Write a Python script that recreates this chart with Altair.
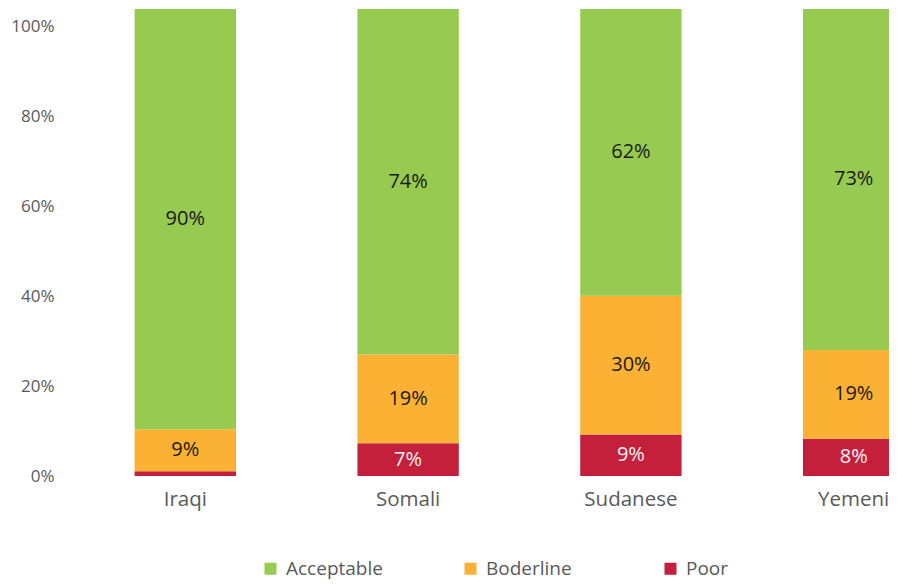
import altair as alt
import pandas as pd

countries = ["Iraqi", "Somali", "Sudanese", "Yemeni"]
categories = ["Acceptable", "Boderline", "Poor"]
poor = [1, 7, 9, 8]
borderline = [9, 19, 30, 19]
acceptable = [90, 74, 62, 73]
tick_values = [0, 20, 40, 60, 80, 100]

colors = ["#97CA50", "#FBB133", "#C41F3B"]
label_colors = ["#1a1a1a", "#1a1a1a", "#f4f4f4"]

rows = []
for i, c in enumerate(countries):
    for cat, vals, order, tc in [("Poor", poor, 0, label_colors[2]),
                                 ("Boderline", borderline, 1, label_colors[1]),
                                 ("Acceptable", acceptable, 2, label_colors[0])]:
        rows.append({"country": c, "category": cat, "value": vals[i],
                     "order": order, "tcolor": tc, "label": f"{vals[i]}%"})
df = pd.DataFrame(rows)
ticks_df = pd.DataFrame({"tick": tick_values})

FONT = "Open Sans"

base = alt.Chart(df).transform_joinaggregate(
    total="sum(value)", groupby=["country"]
).transform_calculate(
    frac="datum.value / datum.total * 100"
).transform_stack(
    stack="frac", as_=["y0", "y1"], groupby=["country"],
    sort=[alt.SortField("order", order="ascending")]
).transform_calculate(
    mid="(datum.y0 + datum.y1) / 2"
)

xenc = alt.X("country:N", sort=countries, title=None,
             scale=alt.Scale(range=[0, 911], paddingInner=0.545, paddingOuter=0.317),
             axis=alt.Axis(labelAngle=0, labelFont=FONT, labelFontSize=20.5,
                           labelColor="#595959", labelPadding=13, domain=False, ticks=False))

bars = base.mark_bar(clip=True).encode(
    x=xenc,
    y=alt.Y("y0:Q", scale=alt.Scale(domain=[0, 100], nice=False), axis=None),
    y2="y1:Q",
    color=alt.Color("category:N",
                    scale=alt.Scale(domain=categories, range=colors),
                    legend=alt.Legend(title=None, orient="none", direction="horizontal",
                                      legendX=197, legendY=550, symbolType="square",
                                      symbolSize=144, symbolStrokeWidth=0,
                                      labelFont=FONT, labelFontSize=19, labelColor="#595959",
                                      labelOffset=6, columnPadding=78, gridAlign="all",
                                      padding=0)),
)

text = base.transform_filter("datum.value >= 3").mark_text(
    font=FONT, fontSize=20, baseline="middle", align="center"
).encode(
    x=alt.X("country:N", sort=countries),
    y=alt.Y("mid:Q", scale=alt.Scale(domain=[0, 100], nice=False), axis=None),
    text="label:N",
    color=alt.Color("tcolor:N", scale=None),
)

axis_layer = alt.Chart(ticks_df).mark_point(opacity=0).encode(
    y=alt.Y("tick:Q", title=None,
            scale=alt.Scale(domain=[0, 103.78], nice=False),
            axis=alt.Axis(orient="left", values=tick_values, labelExpr="datum.value + '%'",
                          labelFont=FONT, labelFontSize=17, labelColor="#595959",
                          labelPadding=10, domain=False, ticks=False, grid=False)),
)

chart = alt.layer(alt.layer(bars, text), axis_layer).resolve_scale(
    y="independent"
).properties(
    width=825, height=467,
    autosize=alt.AutoSizeParams(type="none"),
    padding={"left": 56, "top": 1, "right": 0, "bottom": 104},
).configure_view(stroke=None).configure_axis(grid=False)

chart.save("out.html", embed_options={"renderer": "svg", "actions": False})
